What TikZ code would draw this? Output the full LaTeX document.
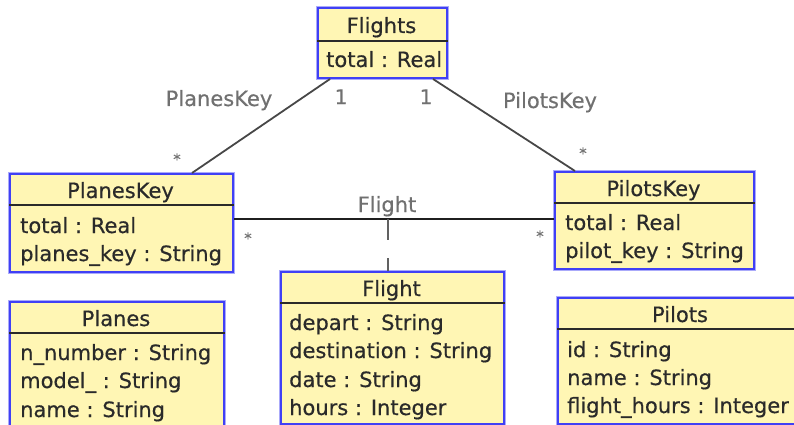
\documentclass[tikz,border=0pt]{standalone}
\usepackage{fontspec}
\setmainfont{DejaVu Sans}[RawFeature={embolden=0.5}]
\usetikzlibrary{calc}
\definecolor{clsfill}{RGB}{255,246,180}
\definecolor{clsline}{RGB}{64,64,245}
\definecolor{clshalo}{RGB}{170,170,250}
\definecolor{txt}{RGB}{42,42,42}
\definecolor{lbl}{RGB}{112,112,112}
\tikzset{
  cls/.style={draw=clsline, line width=2pt, fill=clsfill, inner sep=0pt,
    anchor=north west, preaction={draw=clshalo, line width=3.6pt}},
  sepline/.style={draw=txt, line width=1.6pt},
  head/.style={font=\fontsize{21}{24}\selectfont, text=txt, anchor=base, inner sep=0pt},
  attr/.style={font=\fontsize{21}{24}\selectfont, text=txt, anchor=base west, inner sep=0pt},
  rolelbl/.style={font=\fontsize{21}{24}\selectfont, text=lbl, anchor=base, inner sep=0pt},
  mult/.style={font=\fontsize{20}{24}\selectfont, text=lbl, anchor=base, inner sep=0pt},
  star/.style={font=\fontsize{15}{18}\selectfont, text=lbl, inner sep=0pt},
  assocline/.style={draw=black!72, line width=1.8pt},
  linkline/.style={draw=black!88, line width=1.5pt},
  classlink/.style={draw=black!62, line width=2.6pt, dash pattern=on 21pt off 18pt},
}
\begin{document}
\begin{tikzpicture}[x=1pt,y=-1pt]
\useasboundingbox (0,0) rectangle (794,425);
\clip (0,0) rectangle (794,425);

% class boxes
\node[cls, minimum width=129pt, minimum height=70pt]  (flights)   at (317,7)   {};
\node[cls, minimum width=223pt, minimum height=98pt]  (planeskey) at (9,173)   {};
\node[cls, minimum width=199pt, minimum height=97pt]  (pilotskey) at (554,171) {};
\node[cls, minimum width=214pt, minimum height=131pt] (planes)    at (9,301)   {};
\node[cls, minimum width=223pt, minimum height=152pt] (flight)    at (280,271) {};
\node[cls, minimum width=246pt, minimum height=126pt] (pilots)    at (557,297) {};

% header separators
\draw[sepline] (flights.west |- 0,41)   -- (flights.east |- 0,41);
\draw[sepline] (planeskey.west |- 0,205) -- (planeskey.east |- 0,205);
\draw[sepline] (pilotskey.west |- 0,203) -- (pilotskey.east |- 0,203);
\draw[sepline] (planes.west |- 0,333)   -- (planes.east |- 0,333);
\draw[sepline] (flight.west |- 0,303)   -- (flight.east |- 0,303);
\draw[sepline] (pilots.west |- 0,329)   -- (pilots.east |- 0,329);

% Flights
\node[head] (flights-h) at (381.5,33) {Flights};
\node[attr] (flights-a1) at (326,67) {total : Real};

% PlanesKey
\node[head] (planeskey-h) at (120.5,198) {PlanesKey};
\node[attr] (planeskey-a1) at (20,233) {total : Real};
\node[attr] (planeskey-a2) at (20,261) {planes\_key : String};

% PilotsKey
\node[head] (pilotskey-h) at (653.5,196) {PilotsKey};
\node[attr] (pilotskey-a1) at (565,230) {total : Real};
\node[attr] (pilotskey-a2) at (565,258) {pilot\_key : String};

% Planes
\node[head] (planes-h) at (116,326) {Planes};
\node[attr] (planes-a1) at (20,360) {n\_number : String};
\node[attr] (planes-a2) at (20,388) {model\_ : String};
\node[attr] (planes-a3) at (20,417) {name : String};

% Flight
\node[head] (flight-h) at (391.5,296) {Flight};
\node[attr] (flight-a1) at (289,330) {depart : String};
\node[attr] (flight-a2) at (289,358) {destination : String};
\node[attr] (flight-a3) at (289,387) {date : String};
\node[attr] (flight-a4) at (289,415) {hours : Integer};

% Pilots
\node[head] (pilots-h) at (680,322) {Pilots};
\node[attr] (pilots-a1) at (567,357) {id : String};
\node[attr] (pilots-a2) at (567,385) {name : String};
\node[attr] (pilots-a3) at (567,413) {flight\_hours : Integer};

% associations from Flights
\draw[assocline] ($(flights.south west)+(13,0)$) -- ($(planeskey.north west)+(183,0)$);
\draw[assocline] ($(flights.south west)+(116,0)$) -- ($(pilotskey.north west)+(21,0)$);

% association with class Flight
\coordinate (mid) at (388,219);
\draw[linkline] (planeskey.east |- mid) -- (pilotskey.west |- mid);
\draw[classlink] (mid) -- (flight.north -| mid);

% role names and multiplicities
\node[rolelbl] (lbl-planes) at (219,106) {PlanesKey};
\node[rolelbl] (lbl-pilots) at (550,108) {PilotsKey};
\node[rolelbl] (lbl-flight) at (387,212) {Flight};
\node[mult] (m1) at (341,104) {1};
\node[mult] (m2) at (426,104) {1};
\node[star] (s1) at (177,159) {*};
\node[star] (s2) at (583,153) {*};
\node[star] (s3) at (248,238) {*};
\node[star] (s4) at (540,236) {*};
\end{tikzpicture}
\end{document}
